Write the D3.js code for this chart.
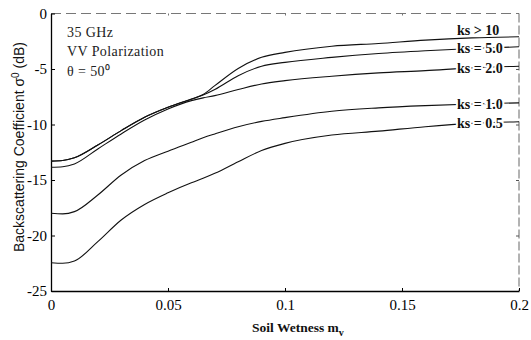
<!DOCTYPE html>
<html>
<head>
<meta charset="utf-8">
<script src="https://cdn.jsdelivr.net/npm/d3@7/dist/d3.min.js"></script>
<style>
  html, body { margin: 0; padding: 0; background: #fff; }
  svg { display: block; }
</style>
</head>
<body>
<svg id="chart" width="531" height="340"></svg>
<script>
// ---- data ----
const wetness = [0, 0.005, 0.01, 0.02, 0.03, 0.04, 0.05, 0.06, 0.065, 0.07, 0.08, 0.09, 0.1, 0.12, 0.14, 0.16, 0.18, 0.2];
const ks10  = [-13.3, -13.25, -13.0, -11.85, -10.55, -9.35, -8.45, -7.7, -7.3, -6.5, -4.95, -3.95, -3.5, -2.95, -2.7, -2.4, -2.2, -2.1];
const ks5   = [-13.3, -13.25, -13.0, -11.85, -10.55, -9.35, -8.45, -7.72, -7.35, -6.85, -5.6, -4.75, -4.4, -3.95, -3.6, -3.35, -3.15, -3.0];
const ks2   = [-13.85, -13.8, -13.55, -12.2, -10.85, -9.6, -8.6, -7.85, -7.6, -7.4, -6.85, -6.35, -6.05, -5.65, -5.35, -5.15, -4.9, -4.75];
const ks1   = [-18.0, -18.05, -17.85, -16.35, -14.55, -13.25, -12.4, -11.6, -11.2, -10.85, -10.2, -9.72, -9.38, -8.8, -8.5, -8.3, -8.15, -8.05];
const ks05  = [-22.45, -22.5, -22.3, -20.55, -18.6, -17.2, -16.15, -15.25, -14.85, -14.4, -13.35, -12.35, -11.7, -10.95, -10.6, -10.2, -9.9, -9.75];
const seriesLabels = ["ks > 10", "ks = 5.0", "ks = 2.0", "ks = 1.0", "ks = 0.5"];
const seriesValues = [ks10, ks5, ks2, ks1, ks05];
const xTicks = [0, 0.05, 0.1, 0.15, 0.2];
const xTickLabels = ["0", "0.05", "0.1", "0.15", "0.2"];
const yTicks = [0, -5, -10, -15, -20, -25];
const yTickLabels = ["0", "-5", "-10", "-15", "-20", "-25"];
const infoLines = ["35 GHz", "VV Polarization", "\u03B8 = 50\u2070"];

// ---- layout ----
const svg = d3.select("#chart");
const L = 51, R = 519, T = 13.5, B = 291;
const x = d3.scaleLinear().domain([0, 0.2]).range([L, R]);
const y = d3.scaleLinear().domain([-25, 0]).range([B, T]);
const serif = "'Liberation Serif', 'Times New Roman', serif";
const sans = "'Liberation Sans', Arial, sans-serif";

// frame: top and right dashed/faint
svg.append("line").attr("x1", L).attr("x2", R).attr("y1", T).attr("y2", T)
  .attr("stroke", "#777").attr("stroke-width", 1).attr("stroke-dasharray", "10,5");
svg.append("line").attr("x1", R).attr("x2", R).attr("y1", T).attr("y2", B)
  .attr("stroke", "#666").attr("stroke-width", 1).attr("stroke-dasharray", "9,3");

// right axis small ticks
svg.append("g").attr("transform", `translate(${R},0)`)
  .call(d3.axisRight(y).tickValues(yTicks.slice(1, 5)).tickSize(-3).tickFormat(""))
  .call(g => g.select(".domain").remove())
  .call(g => g.selectAll("line").attr("stroke", "#555"));
// top small ticks
svg.append("g").attr("transform", `translate(0,${T})`)
  .call(d3.axisTop(x).tickValues(xTicks.slice(1, 4)).tickSize(-2).tickFormat(""))
  .call(g => g.select(".domain").remove())
  .call(g => g.selectAll("line").attr("stroke", "#777"));

// left axis
const yAxis = svg.append("g").attr("transform", `translate(${L},0)`)
  .call(d3.axisLeft(y).tickValues(yTicks).tickSizeInner(-4).tickSizeOuter(0).tickPadding(4)
    .tickFormat((d, i) => yTickLabels[i]));
yAxis.select(".domain").attr("stroke", "#000").attr("stroke-width", 1.3);
yAxis.selectAll("line").attr("stroke", "#000");
yAxis.selectAll("text").attr("font-family", serif).attr("font-size", 15).attr("fill", "#000");

// bottom axis
const xAxis = svg.append("g").attr("transform", `translate(0,${B})`)
  .call(d3.axisBottom(x).tickValues(xTicks).tickSizeInner(-3).tickSizeOuter(0).tickPadding(8)
    .tickFormat((d, i) => xTickLabels[i]));
xAxis.select(".domain").attr("stroke", "#000").attr("stroke-width", 1.3);
xAxis.selectAll("line").attr("stroke", "#000");
xAxis.selectAll("text").attr("font-family", serif).attr("font-size", 15).attr("fill", "#000");

// curves
const line = d3.line().x((d, i) => x(wetness[i])).y(d => y(d)).curve(d3.curveMonotoneX);
svg.append("g").selectAll("path").data(seriesValues).join("path")
  .attr("d", d => line(d))
  .attr("fill", "none").attr("stroke", "#111").attr("stroke-width", 1.1);

// series labels
svg.append("g").selectAll("text").data(seriesLabels).join("text")
  .attr("x", 457)
  .attr("y", (d, i) => {
    const yv = y(seriesValues[i][seriesValues[i].length - 2]);
    return i === 0 ? yv - 3 : yv + 5;
  })
  .attr("font-family", serif).attr("font-size", 14).attr("font-weight", "bold")
  .attr("fill", "#111")
  .attr("stroke", (d, i) => i === 0 ? "none" : "#fff").attr("stroke-width", 4)
  .attr("paint-order", "stroke")
  .text(d => d);

// info block
svg.append("g").selectAll("text").data(infoLines).join("text")
  .attr("x", 67).attr("y", (d, i) => 37 + i * 18.5 + (i === 2 ? 1.5 : 0))
  .attr("font-family", serif).attr("font-size", 14).attr("letter-spacing", 0.4)
  .attr("fill", "#222").text(d => d);

// x title
const xt = svg.append("text").attr("x", 252).attr("y", 332)
  .attr("font-family", serif).attr("font-size", 13.5).attr("font-weight", "bold").attr("fill", "#111");
xt.append("tspan").text("Soil Wetness m");
xt.append("tspan").attr("dy", 4).attr("font-size", 10).text("v");

// y title
const yt = svg.append("text").attr("transform", "translate(24,147) rotate(-90)")
  .attr("text-anchor", "middle")
  .attr("font-family", sans).attr("font-size", 14).attr("fill", "#111");
yt.append("tspan").text("Backscattering Coefficient \u03C3");
yt.append("tspan").attr("dy", -5).attr("font-size", 10).text("0");
yt.append("tspan").attr("dy", 5).text(" (dB)");
</script>
</body>
</html>
